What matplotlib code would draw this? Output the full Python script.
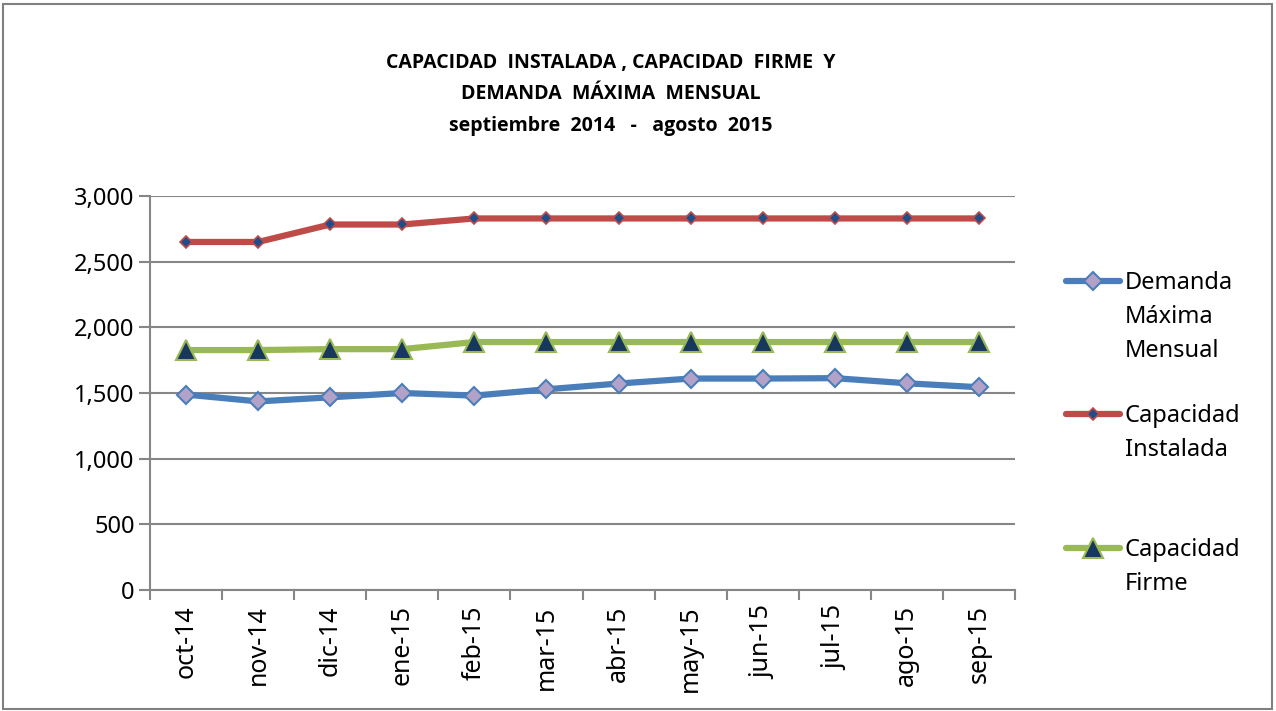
import numpy as np
import matplotlib.pyplot as plt
from matplotlib.lines import Line2D
from matplotlib.patches import Rectangle

meses = ['oct-14', 'nov-14', 'dic-14', 'ene-15', 'feb-15', 'mar-15',
         'abr-15', 'may-15', 'jun-15', 'jul-15', 'ago-15', 'sep-15']
demanda = [1488, 1436, 1467, 1500, 1480, 1528, 1572, 1610, 1610, 1613, 1574, 1544]
instalada = [2650, 2650, 2783, 2783, 2829, 2829, 2829, 2829, 2829, 2829, 2829, 2829]
firme = [1827, 1827, 1834, 1834, 1888, 1888, 1888, 1888, 1888, 1888, 1888, 1888]

plt.rcParams['font.family'] = ['Noto Sans', 'DejaVu Sans']

fig = plt.figure(figsize=(12.76, 7.11), dpi=100)
ax = fig.add_axes([150/1276, 1-590/711, 865/1276, 394/711])
x = np.arange(len(meses))

grid_c = '#868686'
series = [
    (demanda, 'Demanda\nMáxima\nMensual', '#4A7EBB', 'D', 9, '#B3A2C7', '#4A7EBB', 1.5),
    (instalada, 'Capacidad\nInstalada', '#BE4B48', 'D', 6.5, '#1F4E8A', '#BE4B48', 1.2),
    (firme, 'Capacidad\nFirme', '#98B954', '^', 14, '#17375E', '#98B954', 1.5),
]
for vals, lab, c, m, ms, fc, ec, mew in series:
    ax.plot(x, vals, color=c, lw=4.5, marker=m, ms=ms, mfc=fc, mec=ec, mew=mew,
            solid_capstyle='round', zorder=3)

ax.set_xlim(-0.5, len(meses) - 0.5)
ax.set_ylim(0, 3000)
ax.set_yticks(np.arange(0, 3001, 500))
ax.set_yticklabels([f'{v:,}' for v in range(0, 3001, 500)])
ax.yaxis.grid(True, color=grid_c, lw=1.5)
ax.set_axisbelow(True)
ax.set_xticks(x)
ax.set_xticklabels(meses, rotation=90)
ax.set_xticks(np.arange(-0.5, len(meses)), minor=True)
ax.tick_params(axis='x', which='major', length=0, pad=11, labelsize=18)
ax.tick_params(axis='x', which='minor', length=7, width=1.5, color=grid_c, direction='out')
ax.tick_params(axis='y', length=8, width=1.5, color=grid_c, pad=3, labelsize=17)
for s in ['top', 'right']:
    ax.spines[s].set_visible(False)
for s in ['left', 'bottom']:
    ax.spines[s].set_color(grid_c)
    ax.spines[s].set_linewidth(1.5)

fig.text(611/1276, 1-53/711,
         'CAPACIDAD  INSTALADA , CAPACIDAD  FIRME  Y\nDEMANDA  MÁXIMA  MENSUAL\nseptiembre  2014   -   agosto  2015',
         ha='center', va='top', fontsize=14, fontweight='bold', linespacing=1.75,
         family=['Open Sans', 'DejaVu Sans'])

# legend
leg_y = [281, 414, 548]
for (vals, lab, c, m, ms, fc, ec, mew), yy in zip(series, leg_y):
    fy = 1 - yy/711
    fig.add_artist(Line2D([1066/1276, 1120/1276], [fy, fy], color=c, lw=4.5,
                          solid_capstyle='round'))
    fig.add_artist(Line2D([1093/1276], [fy], marker=m, ms=ms, mfc=fc, mec=ec, mew=mew))
    fig.text(1125/1276, 1-(yy-10)/711, lab, ha='left', va='top', fontsize=17,
             linespacing=1.55)

fig.add_artist(Rectangle((3/1276, 2/711), 1269/1276, 705/711, fill=False,
                         edgecolor='#808080', lw=1.5, transform=fig.transFigure))

fig.savefig('out.png', dpi=100)
